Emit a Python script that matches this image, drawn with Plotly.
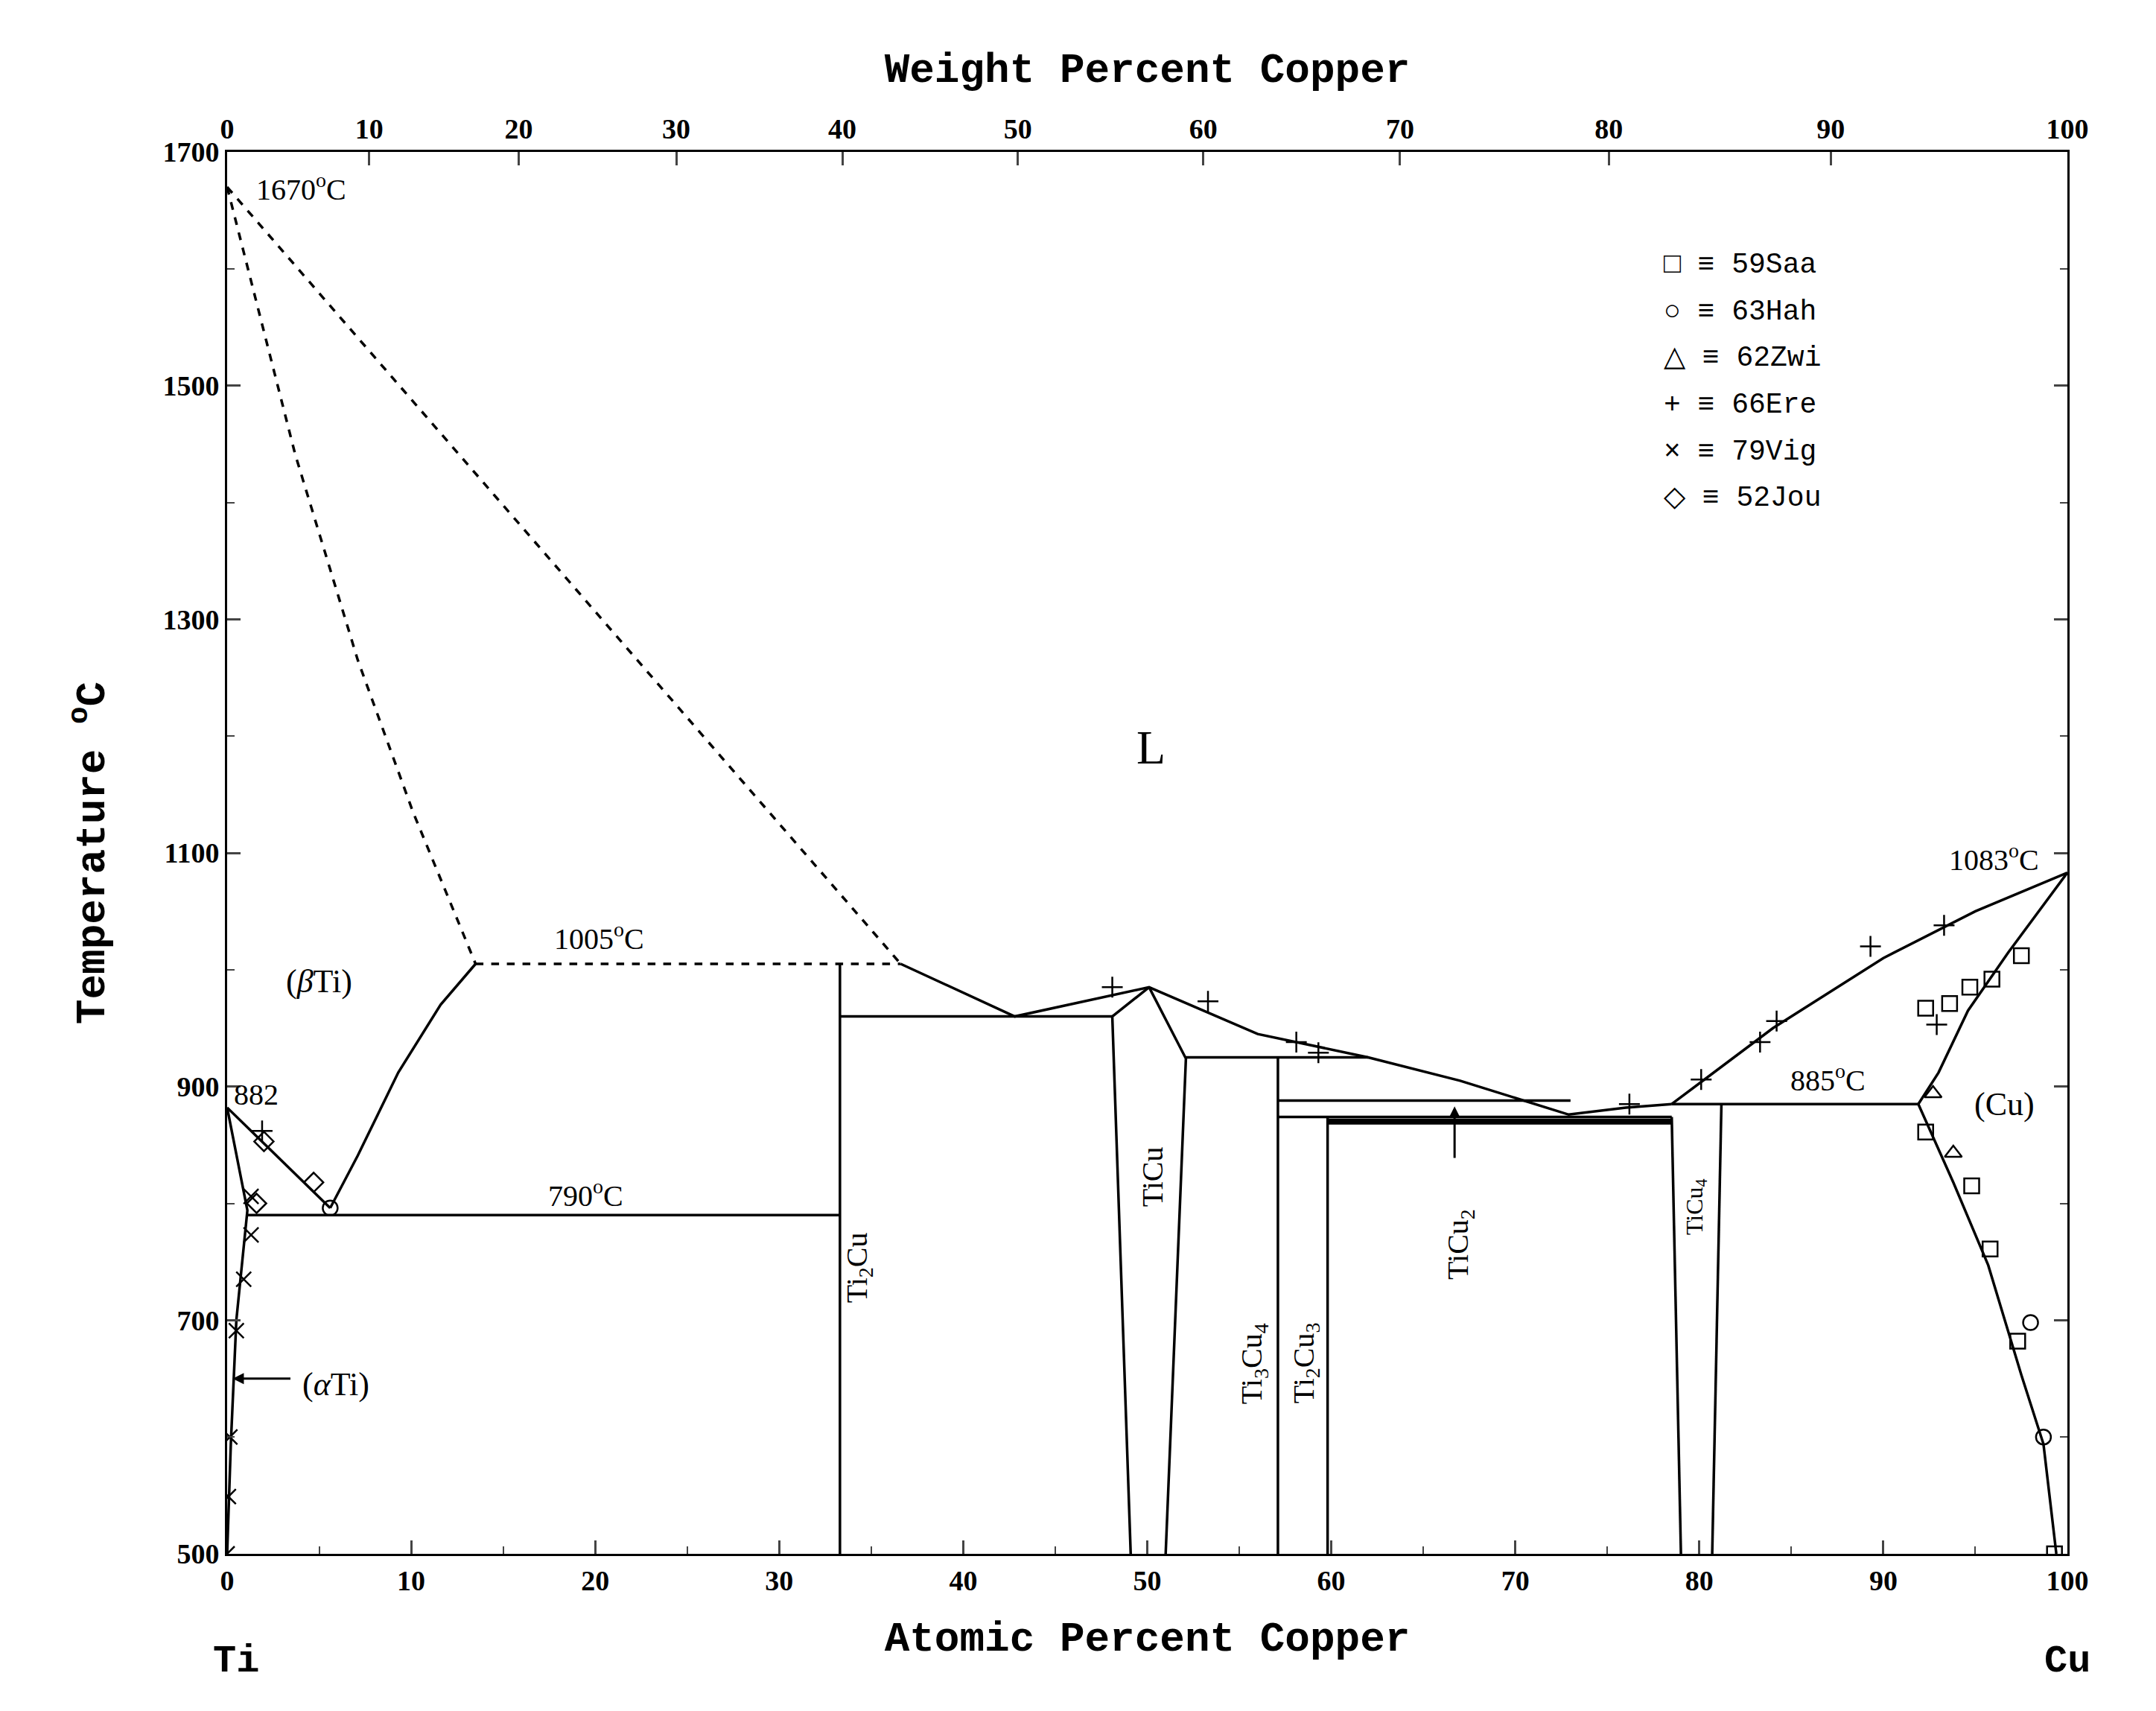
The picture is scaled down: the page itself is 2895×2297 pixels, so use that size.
import plotly.graph_objects as go

# ---- phase boundary lines (at.% Cu, °C) ----
liq_dash_a_x = [0, 3.7, 7.1, 10.1, 13.5]
liq_dash_a_T = [1670, 1441, 1265, 1135, 1005]
liq_dash_b_x = [0, 36.6]
liq_dash_b_T = [1670, 1005]
peri_x = [13.5, 36.6]
peri_T = [1005, 1005]
liq_mid_x = [36.6, 42.8, 50.1, 56, 62, 67, 72.9, 76, 78.5]
liq_mid_T = [1005, 960, 985, 945, 925, 905, 876, 882, 885]
liq_cu_x = [78.5, 84, 90, 95, 100]
liq_cu_T = [885, 950, 1010, 1050, 1083]
ti2cu_x = [33.3, 33.3]
ti2cu_T = [500, 1005]
eut960_x = [33.3, 48.1]
eut960_T = [960, 960]
ticu_left_x = [49.1, 48.1, 50.1]
ticu_left_T = [500, 960, 985]
ticu_right_x = [50.1, 52.1, 51.0]
ticu_right_T = [985, 924, 500]
h925_x = [52.1, 62]
h925_T = [925, 925]
ti3cu4_x = [57.1, 57.1]
ti3cu4_T = [500, 925]
h888_x = [57.1, 73.0]
h888_T = [888, 888]
h874_x = [57.1, 78.5]
h874_T = [874, 874]
thick_x = [59.8, 78.5]
thick_T = [870, 870]
ti2cu3_x = [59.8, 59.8]
ti2cu3_T = [500, 874]
ticu4_left_x = [79.0, 78.5]
ticu4_left_T = [500, 874]
ticu4_right_x = [80.7, 81.2]
ticu4_right_T = [500, 885]
h885_x = [78.5, 91.9]
h885_T = [885, 885]
cu_solvus_x = [91.9, 93.8, 95.7, 97.5, 98.7, 99.4]
cu_solvus_T = [885, 818, 747, 653, 594, 500]
cu_solidus_x = [91.9, 93.0, 94.6, 96.8, 100]
cu_solidus_T = [885, 912, 965, 1015, 1083]
beta_transus_x = [0, 5.6]
beta_transus_T = [882, 796]
alpha_solvus_x = [0, 1.1, 0.5, 0.2, 0.0]
alpha_solvus_T = [882, 794, 700, 594, 500]
eutectoid_x = [1.1, 33.3]
eutectoid_T = [790, 790]
beta_liq_x = [5.6, 7.1, 9.3, 11.6, 13.5]
beta_liq_T = [796, 841, 912, 970, 1005]

solid = [
    (liq_mid_x, liq_mid_T), (liq_cu_x, liq_cu_T), (ti2cu_x, ti2cu_T),
    (eut960_x, eut960_T), (ticu_left_x, ticu_left_T), (ticu_right_x, ticu_right_T),
    (h925_x, h925_T), (ti3cu4_x, ti3cu4_T), (h888_x, h888_T), (h874_x, h874_T),
    (ti2cu3_x, ti2cu3_T), (ticu4_left_x, ticu4_left_T), (ticu4_right_x, ticu4_right_T),
    (h885_x, h885_T), (cu_solvus_x, cu_solvus_T), (cu_solidus_x, cu_solidus_T),
    (beta_transus_x, beta_transus_T), (alpha_solvus_x, alpha_solvus_T),
    (eutectoid_x, eutectoid_T), (beta_liq_x, beta_liq_T),
]
dashed = [(liq_dash_a_x, liq_dash_a_T), (liq_dash_b_x, liq_dash_b_T), (peri_x, peri_T)]

# ---- experimental points ----
saa_x = [92.3, 93.6, 94.7, 95.9, 97.5, 92.3, 94.8, 95.8, 97.3, 99.3]
saa_T = [967, 971, 985, 992, 1012, 861, 815, 761, 682, 500]
hah_x = [5.6, 98.0, 98.7]
hah_T = [796, 698, 600]
zwi_x = [92.7, 93.8]
zwi_T = [894, 843]
ere_x = [1.9, 48.1, 53.3, 58.1, 59.3, 76.2, 80.1, 83.3, 84.2, 89.3, 93.3, 92.9]
ere_T = [862, 985, 973, 938, 929, 885, 906, 938, 956, 1020, 1038, 953]
vig_x = [1.3, 1.3, 0.9, 0.5, 0.15, 0.07, 0.0]
vig_T = [806, 773, 735, 691, 600, 549, 500]
jou_x = [2.0, 4.7, 1.6]
jou_T = [853, 818, 800]

wt_ticks = [0, 10, 20, 30, 40, 50, 60, 70, 80, 90, 100]
at_ticks = list(range(0, 101, 10))
T_ticks = list(range(500, 1701, 200))

def wt_to_at(w):
    if w >= 100:
        return 100.0
    a = w / 63.546
    b = (100 - w) / 47.867
    return 100 * a / (a + b)

fig = go.Figure()
for xs, ts in solid:
    fig.add_trace(go.Scatter(x=xs, y=ts, mode="lines", line=dict(color="black", width=3.5), showlegend=False))
fig.add_trace(go.Scatter(x=thick_x, y=thick_T, mode="lines", line=dict(color="black", width=8), showlegend=False))
for xs, ts in dashed:
    fig.add_trace(go.Scatter(x=xs, y=ts, mode="lines", line=dict(color="black", width=3.5, dash="dash"), showlegend=False))

mk = dict(color="black", size=20, line=dict(color="black", width=2.5))
for xs, ts, sym in [(saa_x, saa_T, "square-open"), (hah_x, hah_T, "circle-open"),
                    (zwi_x, zwi_T, "triangle-up-open"), (ere_x, ere_T, "cross-thin-open"),
                    (vig_x, vig_T, "x-thin-open"), (jou_x, jou_T, "diamond-open")]:
    fig.add_trace(go.Scatter(x=xs, y=ts, mode="markers", marker=dict(symbol=sym, **mk), showlegend=False))
fig.add_trace(go.Scatter(x=[0, 100], y=[500, 500], xaxis="x2", mode="lines", line=dict(width=0), showlegend=False, hoverinfo="skip"))

F = "Liberation Serif"
M = "Liberation Mono"
def ann(x, y, t, size=40, **k):
    return dict(x=x, y=y, text=t, showarrow=False, font=dict(family=F, size=size, color="black"), **k)
annots = [
    ann(1.5, 1670, "1670<sup>o</sup>C", xanchor="left"),
    ann(5.0, 990, "(<i>β</i>Ti)", size=44),
    ann(0.3, 893, "882", xanchor="left"),
    ann(19.5, 808, "790<sup>o</sup>C"),
    ann(20.2, 1028, "1005<sup>o</sup>C"),
    ann(50.2, 1190, "L", size=64),
    ann(96, 1096, "1083<sup>o</sup>C"),
    ann(87, 907, "885<sup>o</sup>C"),
    ann(96.6, 885, "(Cu)", size=44),
    ann(4.0, 645, "(<i>α</i>Ti)", size=44, xanchor="left"),
    ann(34.3, 745, "Ti<sub>2</sub>Cu", textangle=-90),
    ann(50.3, 823, "TiCu", textangle=-90),
    ann(55.8, 663, "Ti<sub>3</sub>Cu<sub>4</sub>", textangle=-90),
    ann(58.6, 663, "Ti<sub>2</sub>Cu<sub>3</sub>", textangle=-90),
    ann(67.0, 765, "TiCu<sub>2</sub>", textangle=-90),
    ann(79.8, 797, "TiCu<sub>4</sub>", size=32, textangle=-90),
    dict(x=0.3, y=650, ax=3.5, ay=650, axref="x", ayref="y", xref="x", yref="y", text="",
         showarrow=True, arrowhead=2, arrowsize=1, arrowwidth=3, arrowcolor="black"),
    dict(x=66.7, y=883, ax=66.7, ay=838, axref="x", ayref="y", xref="x", yref="y", text="",
         showarrow=True, arrowhead=2, arrowsize=1, arrowwidth=3, arrowcolor="black"),
    dict(x=0.005, y=-0.06, xref="paper", yref="paper", text="<b>Ti</b>", showarrow=False,
         font=dict(family=M, size=52, color="black"), xanchor="center", yanchor="top"),
    dict(x=1.0, y=-0.06, xref="paper", yref="paper", text="<b>Cu</b>", showarrow=False,
         font=dict(family=M, size=52, color="black"), xanchor="center", yanchor="top"),
]
legend_items = ["□ ≡ 59Saa", "○ ≡ 63Hah", "△ ≡ 62Zwi", "+ ≡ 66Ere", "× ≡ 79Vig", "◇ ≡ 52Jou"]
for i, t in enumerate(legend_items):
    annots.append(dict(x=0.78, y=0.932 - i * 0.0333, xref="paper", yref="paper", text=t, showarrow=False,
                       xanchor="left", font=dict(family=M, size=38, color="black")))

tickfont = dict(family=F, size=38, color="black", weight="bold")
fig.update_layout(
    width=2895, height=2297, plot_bgcolor="white", paper_bgcolor="white",
    margin=dict(l=297, r=127, t=196, b=219),
    annotations=annots,
    xaxis=dict(range=[0, 100], tickvals=at_ticks, ticks="inside", ticklen=18, tickwidth=3,
               minor=dict(dtick=5, ticks="inside", ticklen=10, tickwidth=2),
               showline=True, linecolor="black", linewidth=3, showgrid=False, zeroline=False,
               tickfont=tickfont,
               title=dict(text="<b>Atomic Percent Copper</b>", font=dict(family=M, size=56, color="black"), standoff=36)),
    xaxis2=dict(range=[0, 100], overlaying="x", side="top", tickvals=[wt_to_at(w) for w in wt_ticks],
                ticktext=[str(w) for w in wt_ticks], ticks="inside", ticklen=18, tickwidth=3,
                showline=True, linecolor="black", linewidth=3, showgrid=False, zeroline=False,
                tickfont=tickfont,
                title=dict(text="<b>Weight Percent Copper</b>", font=dict(family=M, size=56, color="black"), standoff=24)),
    yaxis=dict(range=[500, 1700], tickvals=T_ticks, ticks="inside", ticklen=18, tickwidth=3, mirror="ticks",
               minor=dict(dtick=100, ticks="inside", ticklen=10, tickwidth=2),
               showline=True, linecolor="black", linewidth=3, showgrid=False, zeroline=False,
               tickfont=tickfont,
               title=dict(text="<b>Temperature <sup>o</sup>C</b>", font=dict(family=M, size=56, color="black"), standoff=60)),
)
fig.write_html("out.html")
